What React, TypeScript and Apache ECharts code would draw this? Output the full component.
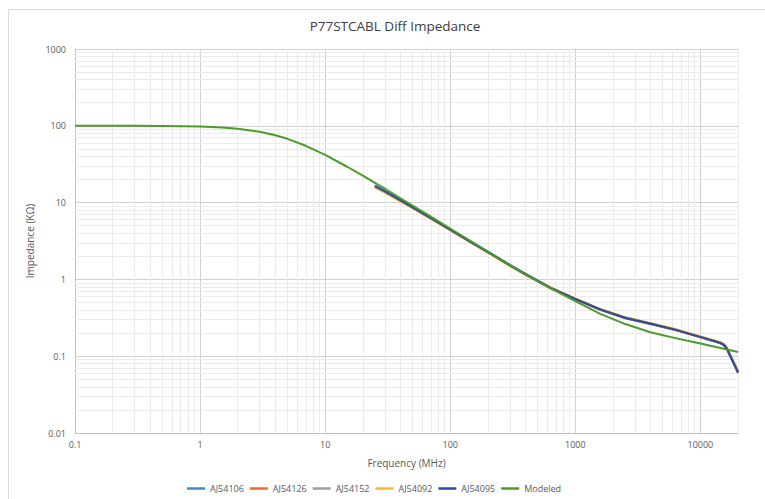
import React, { useEffect, useRef } from "react";
import * as echarts from "echarts";

const seriesNames = ["AJ54106", "AJ54126", "AJ54152", "AJ54092", "AJ54095", "Modeled"];
const seriesColors = ["#3F8DD6", "#EE6A2E", "#A0A0A0", "#FFB820", "#2C4BA6", "#4C9A2A"];

const freqMeasured = [25, 30, 40, 50, 70, 100, 150, 200, 300, 400, 631, 1000, 1585, 2512, 3981, 6310, 10000, 14454, 15400, 16360, 17150, 17940, 19050, 20000];
const aj54106 = [16.6, 14.1, 10.8, 8.75, 6.32, 4.46, 3.01, 2.29, 1.54, 1.18, 0.785, 0.56, 0.407, 0.317, 0.266, 0.222, 0.179, 0.150, 0.142, 0.125, 0.106, 0.091, 0.0745, 0.062];
const aj54126 = [16.0, 13.6, 10.5, 8.55, 6.2, 4.4, 2.97, 2.26, 1.52, 1.16, 0.775, 0.553, 0.402, 0.313, 0.264, 0.220, 0.177, 0.148, 0.140, 0.123, 0.104, 0.089, 0.0725, 0.0605];
const aj54152 = [16.3, 13.8, 10.6, 8.6, 6.25, 4.42, 2.99, 2.27, 1.53, 1.17, 0.78, 0.555, 0.404, 0.314, 0.265, 0.221, 0.178, 0.149, 0.141, 0.124, 0.105, 0.090, 0.0735, 0.0612];
const aj54092 = [15.9, 13.5, 10.4, 8.5, 6.15, 4.38, 2.96, 2.25, 1.52, 1.17, 0.785, 0.562, 0.41, 0.32, 0.27, 0.226, 0.182, 0.152, 0.144, 0.127, 0.108, 0.093, 0.076, 0.064];
const aj54095 = [16.5, 14.0, 10.7, 8.7, 6.3, 4.45, 3.0, 2.28, 1.53, 1.17, 0.78, 0.556, 0.405, 0.315, 0.265, 0.221, 0.178, 0.149, 0.141, 0.124, 0.105, 0.090, 0.0736, 0.0615];

const freqModeled = [0.1, 0.2, 0.3, 0.5, 0.7, 1, 1.5, 2, 3, 4, 5, 7, 10, 15, 20, 25, 30, 40, 50, 70, 100, 150, 200, 300, 400, 631, 1000, 1585, 2512, 3981, 6310, 10000, 14454, 20000];
const modeled = [100, 99.9, 99.8, 99.4, 98.9, 97.7, 95.1, 91.7, 83.8, 75.5, 67.7, 54.9, 41.8, 29.3, 22.4, 18.1, 15.2, 11.4, 9.16, 6.56, 4.6, 3.07, 2.3, 1.53, 1.15, 0.77, 0.52, 0.355, 0.262, 0.205, 0.172, 0.146, 0.128, 0.1135];

const xMinorGrid = [0.2, 0.3, 0.4, 0.5, 0.6, 0.7, 0.8, 0.9, 2, 3, 4, 5, 6, 7, 8, 9, 20, 30, 40, 50, 60, 70, 80, 90, 200, 300, 400, 500, 600, 700, 800, 900, 2000, 3000, 4000, 5000, 6000, 7000, 8000, 9000, 20000];
const yMinorGrid = [0.02, 0.03, 0.04, 0.05, 0.06, 0.07, 0.08, 0.09, 0.2, 0.3, 0.4, 0.5, 0.6, 0.7, 0.8, 0.9, 2, 3, 4, 5, 6, 7, 8, 9, 20, 30, 40, 50, 60, 70, 80, 90, 200, 300, 400, 500, 600, 700, 800, 900];

const FONT = "'Open Sans', 'Noto Sans', sans-serif";

function pairs(xs: number[], ys: number[]) {
  return xs.map((x, i) => [x, ys[i]]);
}

function fmt(v: number) {
  return String(Number(Number(v).toPrecision(4)));
}

export default function App() {
  const ref = useRef<HTMLDivElement>(null);
  useEffect(() => {
    if (!ref.current) return;
    const chart = echarts.init(ref.current, undefined, { renderer: "svg" });
    const measured = [aj54106, aj54126, aj54152, aj54092, aj54095];
    const series: any[] = [
      {
        name: "__grid",
        type: "line",
        data: [],
        silent: true,
        z: 1,
        markLine: {
          silent: true,
          z: 1,
          symbol: "none",
          animation: false,
          label: { show: false },
          lineStyle: { color: "#EBEBEB", width: 1, type: "solid" },
          emphasis: { disabled: true },
          data: [
            ...xMinorGrid.map((v) => ({ xAxis: v })),
            ...yMinorGrid.map((v) => ({ yAxis: v })),
          ],
        },
      },
    ];
    measured.forEach((arr, i) => {
      series.push({
        name: seriesNames[i],
        type: "line",
        data: pairs(freqMeasured, arr),
        showSymbol: false,
        symbol: "none",
        z: 10,
        lineStyle: { width: 2.25, color: seriesColors[i], join: "round" },
        itemStyle: { color: seriesColors[i] },
      });
    });
    series.push({
      name: "Modeled",
      type: "line",
      data: pairs(freqModeled, modeled),
      showSymbol: false,
      symbol: "none",
      z: 11,
      lineStyle: { width: 2, color: seriesColors[5], join: "round" },
      itemStyle: { color: seriesColors[5] },
    });

    chart.setOption({
      animation: false,
      backgroundColor: "#FFFFFF",
      title: {
        text: "P77STCABL Diff Impedance",
        left: 390,
        top: 14,
        textAlign: "center",
        textStyle: { fontFamily: FONT, fontSize: 13.5, fontWeight: "normal", color: "#404040" },
      },
      graphic: [
        {
          type: "rect",
          silent: true,
          shape: { x: 8.5, y: 9.5, width: 800, height: 600 },
          style: { fill: "none", stroke: "#D9D9D9", lineWidth: 1 },
        },
      ],
      legend: {
        data: seriesNames,
        left: 187,
        top: 484,
        padding: 0,
        icon: "rect",
        itemWidth: 18,
        itemHeight: 2.5,
        itemGap: 6,
        textStyle: { fontFamily: FONT, fontSize: 9, color: "#595959" },
      },
      grid: { left: 75, right: 27, top: 49, bottom: 66, containLabel: false },
      xAxis: {
        type: "log",
        logBase: 10,
        min: 0.1,
        max: 20000,
        name: "Frequency (MHz)",
        nameLocation: "middle",
        nameGap: 25,
        nameTextStyle: { fontFamily: FONT, fontSize: 10, color: "#595959" },
        axisLine: { show: true, lineStyle: { color: "#BFBFBF", width: 1 } },
        axisTick: { show: false },
        axisLabel: {
          fontFamily: FONT,
          fontSize: 9,
          color: "#595959",
          margin: 7,
          showMaxLabel: false,
          formatter: (v: number) => fmt(v),
        },
        splitLine: { show: true, lineStyle: { color: "#D0D0D0", width: 1 } },
      },
      yAxis: {
        type: "log",
        logBase: 10,
        min: 0.01,
        max: 1000,
        name: "Impedance (KΩ)",
        nameLocation: "middle",
        nameGap: 40,
        nameTextStyle: { fontFamily: FONT, fontSize: 10, color: "#595959" },
        axisLine: { show: true, lineStyle: { color: "#BFBFBF", width: 1 } },
        axisTick: { show: false },
        axisLabel: {
          fontFamily: FONT,
          fontSize: 9,
          color: "#595959",
          margin: 9,
          formatter: (v: number) => fmt(v),
        },
        splitLine: { show: true, lineStyle: { color: "#D0D0D0", width: 1 } },
      },
      series,
    });
    return () => chart.dispose();
  }, []);
  return (
    <div
      ref={ref}
      style={{ position: "absolute", left: 0, top: 0, width: 765, height: 499 }}
    />
  );
}
